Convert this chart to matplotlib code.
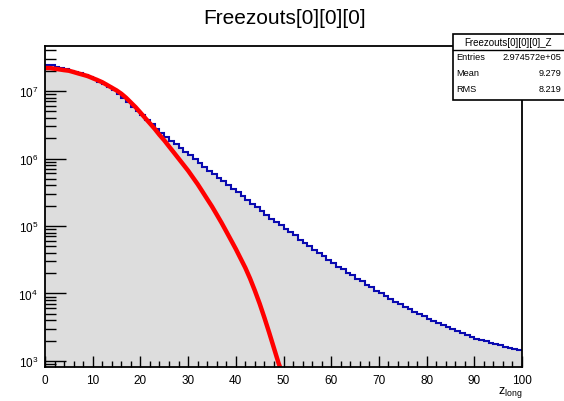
import numpy as np
import matplotlib
matplotlib.use("Agg")
import matplotlib.pyplot as plt
from matplotlib.patches import Rectangle
from matplotlib.ticker import LogLocator, FixedLocator, NullFormatter, FuncFormatter

plt.rcParams['font.family'] = ['Liberation Sans', 'DejaVu Sans']
plt.rcParams['mathtext.default'] = 'regular'

# ---- data ----
bin_edges = list(range(0, 101))
blue_counts = [
    2.455e7, 2.399e7, 2.291e7, 2.188e7, 2.089e7, 1.995e7, 1.905e7, 1.820e7, 1.698e7, 1.622e7,
    1.514e7, 1.380e7, 1.259e7, 1.148e7, 1.023e7, 9.12e6, 7.94e6, 6.76e6, 5.89e6, 5.01e6,
    4.37e6, 3.72e6, 3.24e6, 2.75e6, 2.40e6, 2.09e6, 1.82e6, 1.62e6, 1.41e6, 1.26e6,
    1.12e6, 9.77e5, 8.71e5, 7.59e5, 6.61e5, 5.89e5, 5.13e5, 4.57e5, 4.07e5, 3.55e5,
    3.16e5, 2.75e5, 2.45e5, 2.14e5, 1.91e5, 1.66e5, 1.48e5, 1.29e5, 1.15e5, 1.02e5,
    9.12e4, 8.13e4, 7.24e4, 6.31e4, 5.62e4, 5.01e4, 4.47e4, 3.98e4, 3.55e4, 3.16e4,
    2.82e4, 2.51e4, 2.29e4, 2.04e4, 1.86e4, 1.66e4, 1.51e4, 1.35e4, 1.23e4, 1.10e4,
    1.00e4, 9.12e3, 8.32e3, 7.59e3, 6.92e3, 6.31e3, 5.89e3, 5.37e3, 4.90e3, 4.57e3,
    4.17e3, 3.89e3, 3.63e3, 3.39e3, 3.16e3, 2.95e3, 2.75e3, 2.57e3, 2.45e3, 2.29e3,
    2.14e3, 2.04e3, 1.95e3, 1.86e3, 1.78e3, 1.70e3, 1.62e3, 1.58e3, 1.51e3, 1.45e3,
]
red_x = [0, 1, 2, 3, 4, 5, 6, 7, 8, 9, 10, 11, 12, 13, 14, 15, 16, 17, 18, 19,
         20, 21, 22, 23, 24, 25, 26, 27, 28, 29, 30, 31, 32, 33, 34, 35, 36, 37, 38, 39,
         40, 41, 42, 43, 44, 45, 46, 47, 48, 49, 49.6]
red_y = [2.19e7, 2.19e7, 2.14e7, 2.09e7, 2.04e7, 2.00e7, 1.91e7, 1.82e7, 1.74e7, 1.66e7,
         1.55e7, 1.45e7, 1.35e7, 1.23e7, 1.12e7, 1.02e7, 9.12e6, 7.94e6, 6.76e6, 5.75e6,
         4.79e6, 3.98e6, 3.31e6, 2.75e6, 2.24e6, 1.86e6, 1.51e6, 1.23e6, 1.00e6, 8.13e5,
         6.61e5, 5.25e5, 4.17e5, 3.24e5, 2.51e5, 1.95e5, 1.48e5, 1.12e5, 8.32e4, 6.17e4,
         4.57e4, 3.31e4, 2.40e4, 1.66e4, 1.10e4, 7.08e3, 4.37e3, 2.63e3, 1.55e3, 912, 708]

title = "Freezouts[0][0][0]"
stats_name = "Freezouts[0][0][0]_Z"
stats_rows = [("Entries", "2.974572e+05"), ("Mean", "9.279"), ("RMS", "8.219")]
x_ticks = [0, 10, 20, 30, 40, 50, 60, 70, 80, 90, 100]
x_label = "z$_{long}$"

# ---- figure ----
W, H = 564, 402
fig = plt.figure(figsize=(W / 100, H / 100), dpi=100)
L, R, T, B = 45, 522, 47, 368
ax = fig.add_axes([L / W, 1 - B / H, (R - L) / W, (B - T) / H])

ymin, ymax = 10 ** 2.911, 10 ** 7.667
ax.set_yscale('log')
ax.set_xlim(0, 100)
ax.set_ylim(ymin, ymax)

ax.stairs(blue_counts, bin_edges, baseline=ymin, fill=True, color='#dddddd', zorder=1)
ax.stairs(blue_counts, bin_edges, baseline=None, color='#0a0ab0', lw=1.5, zorder=2)
ax.plot(red_x, red_y, color='#ff0000', lw=3.2, zorder=3, solid_capstyle='butt',
        solid_joinstyle='round')

for s in ax.spines.values():
    s.set_linewidth(1.3)
    s.set_zorder(5)

ax.xaxis.set_major_locator(FixedLocator(x_ticks))
ax.xaxis.set_minor_locator(FixedLocator(list(range(0, 101, 2))))
ax.yaxis.set_major_locator(LogLocator(base=10, numticks=20))
ax.yaxis.set_minor_locator(LogLocator(base=10, subs=np.arange(2, 10), numticks=20))
ax.yaxis.set_minor_formatter(NullFormatter())
ax.yaxis.set_major_formatter(FuncFormatter(lambda v, p: r'$10^{%d}$' % round(np.log10(v))))

ax.tick_params(axis='x', which='major', direction='in', length=8, width=1, labelsize=8.5, pad=5)
ax.tick_params(axis='x', which='minor', direction='in', length=4, width=1)
ax.tick_params(axis='y', which='major', direction='in', length=15, width=1, labelsize=8.5, pad=5)
ax.tick_params(axis='y', which='minor', direction='in', length=8, width=1)

fig.text(285 / W, 1 - 18 / H, title, ha='center', va='center', fontsize=15)
fig.text(498 / W, 1 - 393 / H, x_label, ha='left', va='center', fontsize=9)

# stats box
bx0, bx1, by0, by1, bsep = 453, 566, 35, 101, 51
fig.patches.append(Rectangle((bx0 / W, 1 - by1 / H), (bx1 - bx0) / W, (by1 - by0) / H,
                             transform=fig.transFigure, facecolor='white', edgecolor='black',
                             lw=1.2, zorder=10))
fig.lines.append(plt.Line2D([bx0 / W, bx1 / W], [1 - bsep / H, 1 - bsep / H],
                            transform=fig.transFigure, color='black', lw=1.0, zorder=11))
fig.text(508 / W, 1 - 43 / H, stats_name, ha='center', va='center',
         fontsize=7.0, zorder=12)
for i, (k, v) in enumerate(stats_rows):
    yy = 1 - (58 + i * 16) / H
    fig.text(456 / W, yy, k, ha='left', va='center', fontsize=6.6, zorder=12)
    fig.text(561 / W, yy, v, ha='right', va='center', fontsize=6.6, zorder=12)

fig.savefig('out.png', dpi=100)
